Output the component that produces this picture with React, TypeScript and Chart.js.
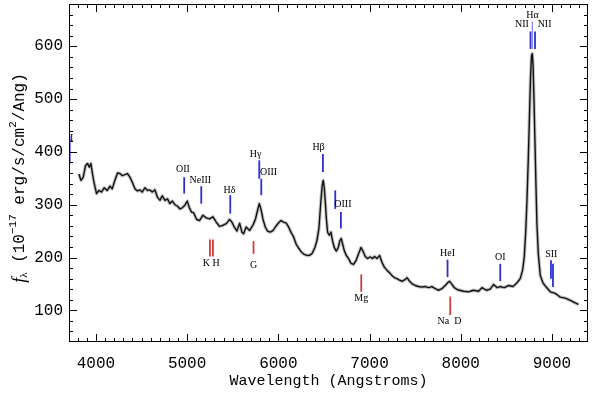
import React, { useEffect, useRef } from "react";
import { Chart, registerables } from "chart.js";

Chart.register(...registerables);

// ---- data ----
const WAVELENGTH = [
  3814, 3836, 3861, 3886, 3908, 3927, 3945, 3959, 3978, 4007, 4033, 4061, 4091, 4124, 4154, 4179,
  4208, 4237, 4263, 4288, 4318, 4346, 4373, 4398, 4428, 4456, 4482, 4508, 4537, 4566, 4592, 4617,
  4647, 4675, 4702, 4727, 4757, 4785, 4811, 4837, 4866, 4895, 4921, 4946, 4976, 5001, 5023, 5048,
  5070, 5105, 5136, 5173, 5209, 5246, 5283, 5319, 5355, 5393, 5429, 5465, 5491, 5516, 5546, 5575,
  5601, 5619, 5648, 5684, 5721, 5750, 5772, 5791, 5809, 5831, 5856, 5882, 5911, 5941, 5969, 5999,
  6029, 6057, 6087, 6112, 6138, 6167, 6196, 6226, 6254, 6284, 6314, 6342, 6372, 6401, 6423, 6445,
  6467, 6481, 6492, 6503, 6514, 6525, 6540, 6558, 6577, 6594, 6613, 6635, 6657, 6675, 6690, 6704,
  6723, 6745, 6770, 6796, 6825, 6854, 6879, 6906, 6928, 6953, 6978, 7008, 7033, 7055, 7081, 7110,
  7136, 7161, 7191, 7219, 7246, 7271, 7300, 7329, 7359, 7388, 7410, 7439, 7468, 7501, 7537, 7575,
  7611, 7647, 7684, 7720, 7757, 7794, 7830, 7855, 7877, 7904, 7929, 7965, 8031, 8085, 8140, 8195,
  8232, 8280, 8323, 8360, 8397, 8433, 8477, 8524, 8572, 8616, 8652, 8678, 8696, 8711, 8726, 8740,
  8754, 8765, 8776, 8784, 8792, 8803, 8814, 8825, 8835, 8850, 8872, 8901, 8937, 8982, 9036, 9091,
  9145, 9200, 9255, 9291,
];
const FLUX = [
  358, 346, 352, 374, 378, 371, 378, 362, 343, 321, 327, 324, 332, 327, 335, 330,
  346, 360, 359, 355, 357, 359, 352, 343, 330, 326, 328, 324, 332, 327, 328, 324,
  328, 314, 308, 317, 308, 311, 302, 307, 300, 297, 292, 294, 299, 307, 295, 286,
  285, 272, 270, 280, 275, 273, 277, 267, 259, 261, 264, 272, 267, 258, 250, 265,
  248, 245, 258, 251, 261, 273, 289, 302, 292, 273, 258, 250, 248, 251, 258, 265,
  270, 267, 265, 258, 248, 239, 225, 217, 210, 206, 204, 204, 208, 219, 232, 255,
  308, 336, 346, 333, 308, 277, 248, 242, 248, 232, 219, 212, 219, 232, 236, 226,
  213, 204, 198, 189, 187, 195, 207, 219, 212, 202, 198, 201, 198, 202, 198, 204,
  191, 182, 176, 171, 166, 162, 160, 157, 155, 158, 162, 155, 150, 147, 145, 144,
  145, 143, 145, 141, 138, 141, 147, 152, 155, 149, 143, 139, 136, 135, 138, 136,
  143, 138, 140, 149, 143, 145, 143, 147, 145, 152, 160, 176, 201, 245, 308, 384,
  472, 541, 582, 586, 567, 497, 415, 333, 264, 207, 166, 152, 144, 135, 132, 125,
  123, 119, 114, 111,
];

const X_TICKS = [4000, 5000, 6000, 7000, 8000, 9000];
const Y_TICKS = [100, 200, 300, 400, 500, 600];
const X_RANGE = [3705, 9395];
const Y_RANGE = [40, 680];

// spectral line markers (wavelength, top flux, bottom flux, kind)
const LINE_WAVE = [3712, 4968, 5155, 5473, 5791, 5813, 6489, 6624, 6686, 7855, 8433, 8765, 8784, 8814, 8989, 9011, 5250, 5283, 5728, 6909, 7885];
const LINE_TOP = [431, 352, 335, 318, 384, 349, 396, 327, 286, 196, 188, 628, 647, 628, 195, 188, 234, 234, 231, 168, 126];
const LINE_BOTTOM = [378, 321, 302, 283, 349, 318, 362, 292, 255, 163, 155, 595, 595, 595, 160, 144, 202, 202, 207, 135, 91];
const LINE_KIND = ["em", "em", "em", "em", "em", "em", "em", "em", "em", "em", "em", "em", "ref", "em", "em", "em", "abs", "abs", "abs", "abs", "abs"];

// marker labels (text, wavelength, flux)
const LABEL_TEXT = ["MgII", "OII", "NeIII", "Hδ", "Hγ", "OIII", "Hβ", "OIII", "HeI", "OI", "NII", "Hα", "NII", "SII", "K H", "G", "Mg", "Na  D"];
const LABEL_WAVE = [3640, 4954, 5145, 5465, 5750, 5893, 6441, 6708, 7855, 8433, 8671, 8787, 8919, 8992, 5264, 5728, 6909, 7877];
const LABEL_FLUX = [425, 367, 346, 328, 395, 362, 409, 300, 207, 200, 641, 658, 641, 206, 189, 185, 122, 79];

const MONO = "'Liberation Mono', 'DejaVu Sans Mono', monospace";
const SERIF = "'Liberation Serif', 'DejaVu Serif', serif";

const framePlugin = {
  id: "frameAndMarks",
  afterDraw(chart: any) {
    const { ctx, chartArea, scales } = chart;
    const { left, right, top, bottom } = chartArea;
    const xs = scales.x;
    const ys = scales.y;
    ctx.save();

    // line markers and labels (clipped to plot area)
    ctx.save();
    ctx.beginPath();
    ctx.rect(left, top, right - left, bottom - top);
    ctx.clip();
    for (let i = 0; i < LINE_WAVE.length; i++) {
      const kind = LINE_KIND[i];
      ctx.strokeStyle = kind === "abs" ? "#d23c3c" : kind === "ref" ? "#6a6ae0" : "#2e2ed2";
      ctx.lineWidth = kind === "ref" ? 1 : 1.8;
      const px = xs.getPixelForValue(LINE_WAVE[i]);
      ctx.beginPath();
      ctx.moveTo(px, ys.getPixelForValue(LINE_TOP[i]));
      ctx.lineTo(px, ys.getPixelForValue(LINE_BOTTOM[i]));
      ctx.stroke();
    }
    ctx.fillStyle = "#000";
    ctx.font = `10px ${SERIF}`;
    ctx.textAlign = "center";
    ctx.textBaseline = "middle";
    for (let i = 0; i < LABEL_TEXT.length; i++) {
      ctx.fillText(LABEL_TEXT[i], xs.getPixelForValue(LABEL_WAVE[i]), ys.getPixelForValue(LABEL_FLUX[i]));
    }
    ctx.restore();

    // frame
    ctx.strokeStyle = "#000";
    ctx.lineWidth = 1;
    ctx.strokeRect(Math.round(left) + 0.5, Math.round(top) + 0.5, Math.round(right - left) - 1, Math.round(bottom - top) - 1);

    // inward ticks on all sides
    ctx.beginPath();
    for (let v = 3800; v <= 9300; v += 100) {
      const px = Math.round(xs.getPixelForValue(v)) + 0.5;
      const len = v % 1000 === 0 ? 8 : 4;
      ctx.moveTo(px, bottom);
      ctx.lineTo(px, bottom - len);
      ctx.moveTo(px, top);
      ctx.lineTo(px, top + len);
    }
    for (let v = 60; v <= 660; v += 20) {
      const py = Math.round(ys.getPixelForValue(v)) + 0.5;
      const len = v % 100 === 0 ? 8 : 4;
      ctx.moveTo(left, py);
      ctx.lineTo(left + len, py);
      ctx.moveTo(right, py);
      ctx.lineTo(right - len, py);
    }
    ctx.stroke();

    // y axis title with sub/superscripts
    const cy = (top + bottom) / 2 + 5;
    const cx = 20;
    const pieces = [
      { t: "f", font: `italic 18px ${SERIF}`, dy: 0 },
      { t: "λ", font: `11px ${SERIF}`, dy: 4 },
      { t: " (10", font: `16px ${MONO}`, dy: 0 },
      { t: "−17", font: `11px ${MONO}`, dy: -7 },
      { t: " erg/s/cm", font: `16px ${MONO}`, dy: 0 },
      { t: "2", font: `11px ${MONO}`, dy: -7 },
      { t: "/Ang)", font: `16px ${MONO}`, dy: 0 },
    ];
    let total = 0;
    const widths = pieces.map((p) => {
      ctx.font = p.font;
      const w = ctx.measureText(p.t).width;
      total += w;
      return w;
    });
    ctx.translate(cx, cy);
    ctx.rotate(-Math.PI / 2);
    ctx.fillStyle = "#000";
    ctx.textAlign = "left";
    ctx.textBaseline = "middle";
    let pos = -total / 2;
    pieces.forEach((p, i) => {
      ctx.font = p.font;
      ctx.fillText(p.t, pos, p.dy);
      pos += widths[i];
    });
    ctx.restore();
  },
};

export default function App() {
  const ref = useRef<HTMLCanvasElement | null>(null);
  useEffect(() => {
    if (!ref.current) return;
    const points = WAVELENGTH.map((w, i) => ({ x: w, y: FLUX[i] }));
    const bandPoints = WAVELENGTH.map((w, i) => ({ x: w, y: FLUX[i] }));
    const chart = new Chart(ref.current, {
      type: "line",
      data: {
        datasets: [
          {
            data: points,
            borderColor: "#111",
            borderWidth: 1.4,
            borderJoinStyle: "round",
            pointRadius: 0,
            tension: 0.001,
            fill: false,
            order: 0,
          },
          {
            data: bandPoints,
            borderColor: "#c4c4c4",
            borderWidth: 3.5,
            borderJoinStyle: "round",
            pointRadius: 0,
            tension: 0.001,
            fill: false,
            order: 1,
          },
        ],
      },
      options: {
        animation: false,
        responsive: false,
        maintainAspectRatio: false,
        layout: { padding: { top: 4, right: 6, left: 0, bottom: 0 } },
        plugins: { legend: { display: false }, tooltip: { enabled: false } },
        scales: {
          x: {
            type: "linear",
            min: X_RANGE[0],
            max: X_RANGE[1],
            grid: { display: false, drawTicks: false },
            border: { display: false },
            ticks: {
              color: "#000",
              font: { family: MONO, size: 16 },
              padding: 12,
              maxRotation: 0,
              autoSkip: false,
              callback: (v: any) => String(v),
            },
            afterBuildTicks: (s: any) => {
              s.ticks = X_TICKS.map((v) => ({ value: v }));
            },
            afterFit: (s: any) => {
              s.height = 52;
              s.paddingLeft = 0;
              s.paddingRight = 0;
            },
            title: {
              display: true,
              text: "Wavelength (Angstroms)",
              color: "#000",
              font: { family: MONO, size: 15 },
              padding: { top: 0, bottom: 4 },
            },
          },
          y: {
            type: "linear",
            min: Y_RANGE[0],
            max: Y_RANGE[1],
            grid: { display: false, drawTicks: false },
            border: { display: false },
            ticks: {
              color: "#000",
              font: { family: MONO, size: 16 },
              padding: 6,
              callback: (v: any) => String(v),
            },
            afterBuildTicks: (s: any) => {
              s.ticks = Y_TICKS.map((v) => ({ value: v }));
            },
            afterFit: (s: any) => {
              s.width = 69;
              s.paddingTop = 0;
              s.paddingBottom = 0;
            },
          },
        },
      },
      plugins: [framePlugin],
    } as any);
    return () => chart.destroy();
  }, []);
  return (
    <div style={{ position: "absolute", left: 0, top: 0, width: 594, height: 394, background: "#fff" }}>
      <canvas ref={ref} width={594} height={394} />
    </div>
  );
}
